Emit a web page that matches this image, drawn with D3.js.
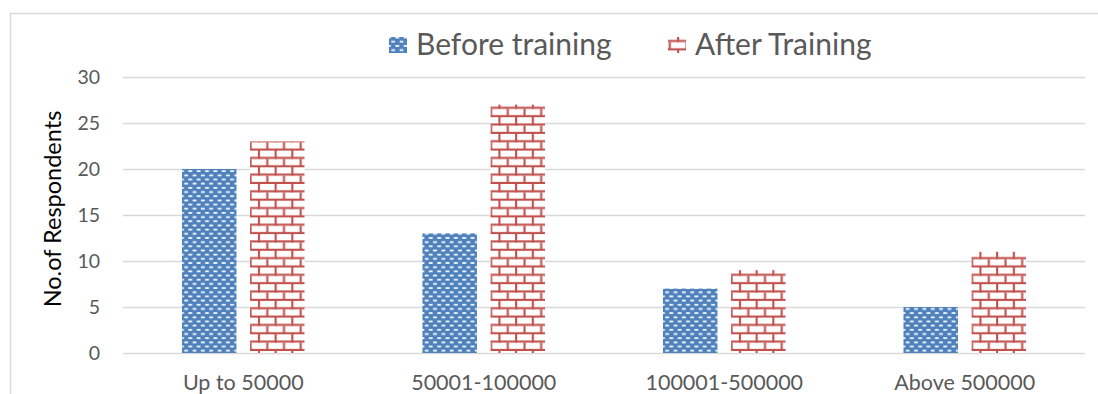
<!DOCTYPE html>
<html>
<head>
<meta charset="utf-8">
<script src="https://cdn.jsdelivr.net/npm/d3@7"></script>
<style>
  html, body { margin: 0; padding: 0; background: #fff; }
  svg { display: block; font-family: Lato, "Open Sans", sans-serif; }
</style>
</head>
<body>
<svg id="chart" width="1098" height="394"></svg>
<script>
// Income groups and respondent counts
const categories = ["Up to 50000", "50001-100000", "100001-500000", "Above 500000"];
const seriesNames = ["Before training", "After Training"];
const beforeTraining = [20, 13, 7, 5];
const afterTraining = [23, 27, 9, 11];
const yTicks = [0, 5, 10, 15, 20, 25, 30];
const yTitle = "No.of Respondents";

const values = [beforeTraining, afterTraining];
const blue = "#4F81BD";
const red = "#C0504D";
const textGrey = "#595959";
const gridGrey = "#d9d9d9";

const svg = d3.select("#chart");
const W = 1098, H = 394;
const plot = { left: 123, right: 1085, top: 77, bottom: 353 };

// ---- fill patterns ----
const defs = svg.append("defs");

// blue with staggered white dashes
const dashT = 8.35;
const pDash = defs.append("pattern")
  .attr("id", "dash-fill")
  .attr("patternUnits", "userSpaceOnUse")
  .attr("width", dashT).attr("height", dashT)
  .attr("x", plot.left).attr("y", plot.bottom);
pDash.append("rect").attr("width", dashT).attr("height", dashT).attr("fill", blue);
pDash.append("rect").attr("x", 0.3).attr("y", 1.0).attr("width", 3.8).attr("height", 1.7).attr("fill", "#ffffff");
pDash.append("rect").attr("x", 4.5).attr("y", 5.2).attr("width", 3.8).attr("height", 1.7).attr("fill", "#ffffff");

// red horizontal bricks on white
const brickT = 16.7;
const lw = 2.1;
const pBrick = defs.append("pattern")
  .attr("id", "brick-fill")
  .attr("patternUnits", "userSpaceOnUse")
  .attr("width", brickT).attr("height", brickT)
  .attr("x", plot.left + 3).attr("y", plot.bottom - 2);
pBrick.append("rect").attr("width", brickT).attr("height", brickT).attr("fill", "#fff");
pBrick.append("rect").attr("x", 0).attr("y", brickT / 2 - lw).attr("width", brickT).attr("height", lw).attr("fill", red);
pBrick.append("rect").attr("x", 0).attr("y", brickT - lw).attr("width", brickT).attr("height", lw).attr("fill", red);
pBrick.append("rect").attr("x", 0).attr("y", 0).attr("width", lw).attr("height", brickT / 2).attr("fill", red);
pBrick.append("rect").attr("x", brickT / 2).attr("y", brickT / 2).attr("width", lw).attr("height", brickT / 2).attr("fill", red);

const fills = ["url(#dash-fill)", "url(#brick-fill)"];

// ---- chart frame ----
svg.append("path")
  .attr("d", `M10.5,${H} V13.5 H${W}`)
  .attr("fill", "none").attr("stroke", gridGrey).attr("stroke-width", 1.5);

// ---- scales ----
const x0 = d3.scaleBand().domain(categories).range([plot.left, plot.right]).padding(0);
const groupW = 122.5;
const x1 = d3.scaleBand().domain(seriesNames).range([0, groupW]).paddingInner(0.2);
const y = d3.scaleLinear().domain([0, 30]).range([plot.bottom, plot.top]);

// ---- gridlines and y ticks ----
const yAxis = d3.axisLeft(y).tickValues(yTicks).tickSize(-(plot.right - plot.left)).tickPadding(23);
const gy = svg.append("g").attr("transform", `translate(${plot.left},0)`).call(yAxis);
gy.select(".domain").remove();
gy.selectAll(".tick line").attr("stroke", gridGrey).attr("stroke-width", 1.5);
gy.selectAll(".tick text")
  .attr("fill", textGrey)
  .style("font-size", "19.5px")
  .style("font-family", "Lato, sans-serif");

// ---- bars ----
const groups = svg.append("g").selectAll("g")
  .data(categories)
  .join("g")
  .attr("transform", c => `translate(${x0(c) + (x0.bandwidth() - groupW) / 2},0)`);

groups.selectAll("rect")
  .data((c, i) => seriesNames.map((s, k) => ({ s, k, v: values[k][i] })))
  .join("rect")
  .attr("x", d => x1(d.s))
  .attr("width", x1.bandwidth())
  .attr("y", d => y(d.v))
  .attr("height", d => y(0) - y(d.v))
  .attr("fill", d => fills[d.k]);

// ---- x axis labels ----
const xAxis = d3.axisBottom(x0).tickSize(0).tickPadding(22);
const gx = svg.append("g").attr("transform", `translate(0,${plot.bottom})`).call(xAxis);
gx.select(".domain").remove();
gx.selectAll(".tick text")
  .attr("fill", textGrey)
  .style("font-size", "21.5px")
  .style("font-family", "Lato, sans-serif");

// ---- y title ----
svg.append("text")
  .attr("transform", `translate(61,209) rotate(-90)`)
  .attr("text-anchor", "middle")
  .attr("fill", "#000")
  .style("font-size", "23.5px")
  .text(yTitle);

// ---- legend ----
const legendX = [389, 668];
const leg = svg.append("g").selectAll("g")
  .data(seriesNames)
  .join("g")
  .attr("transform", (d, i) => `translate(${legendX[i]},0)`);
leg.append("rect")
  .attr("x", 0).attr("y", 37).attr("width", 18).attr("height", 16)
  .attr("fill", (d, i) => fills[i]);
leg.append("text")
  .attr("x", 27).attr("y", 55)
  .attr("fill", textGrey)
  .style("font-size", "30px")
  .text(d => d);
</script>
</body>
</html>
